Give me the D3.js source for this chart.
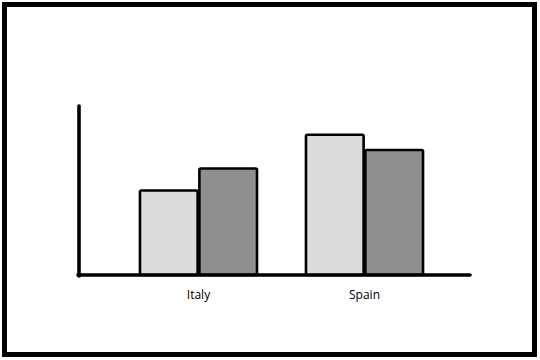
<!DOCTYPE html>
<html>
<head>
<meta charset="utf-8">
<script src="https://cdn.jsdelivr.net/npm/d3@7"></script>
<style>
  html, body { margin: 0; padding: 0; background: #fff; }
  svg { display: block; }
</style>
</head>
<body>
<svg id="chart" width="540" height="360"></svg>
<script>
const categories = ["Italy", "Spain"];
const seriesNames = ["A", "B"];
const seriesA = [50, 83];
const seriesB = [63, 74];
const seriesColors = ["#dcdcdc", "#8f8f8f"];

const svg = d3.select("#chart");

// outer frame
svg.append("rect")
  .attr("x", 4.5).attr("y", 4.5)
  .attr("width", 530).attr("height", 350)
  .attr("fill", "#fff")
  .attr("stroke", "#000").attr("stroke-width", 5);

const y = d3.scaleLinear().domain([0, 100]).range([275, 106]);
const x0 = d3.scaleBand().domain(categories).range([91, 472]).paddingInner(0.295).paddingOuter(0.295);
const x1 = d3.scaleBand().domain(seriesNames).range([0, x0.bandwidth()]).paddingInner(0.03);
const color = d3.scaleOrdinal().domain(seriesNames).range(seriesColors);

const rows = categories.map((c, i) => ({ cat: c, vals: [
  { key: "A", v: seriesA[i] },
  { key: "B", v: seriesB[i] }
]}));

const g = svg.append("g");
g.selectAll("g.grp").data(rows).join("g")
  .attr("class", "grp")
  .attr("transform", d => `translate(${x0(d.cat)},0)`)
  .selectAll("rect").data(d => d.vals).join("rect")
  .attr("x", d => x1(d.key))
  .attr("y", d => y(d.v))
  .attr("width", x1.bandwidth())
  .attr("height", d => y(0) - y(d.v))
  .attr("rx", 1.5)
  .attr("fill", d => color(d.key))
  .attr("stroke", "#000")
  .attr("stroke-width", 2.6);

// axes lines
svg.append("line")
  .attr("x1", 79).attr("x2", 79)
  .attr("y1", y(100)).attr("y2", y(0) + 1)
  .attr("stroke", "#000").attr("stroke-width", 3.6).attr("stroke-linecap", "round");
svg.append("line")
  .attr("x1", 78).attr("x2", 470)
  .attr("y1", y(0)).attr("y2", y(0))
  .attr("stroke", "#000").attr("stroke-width", 3.6).attr("stroke-linecap", "round");

// category labels via axis
const xAxis = d3.axisBottom(x0).tickSize(0).tickPadding(0);
const ax = svg.append("g").attr("transform", `translate(0,${y(0) + 15})`).call(xAxis);
ax.select(".domain").remove();
ax.selectAll("text")
  .attr("dy", "0.71em")
  .attr("font-family", "'Open Sans', sans-serif")
  .attr("font-size", 12)
  .attr("fill", "#000");
</script>
</body>
</html>
